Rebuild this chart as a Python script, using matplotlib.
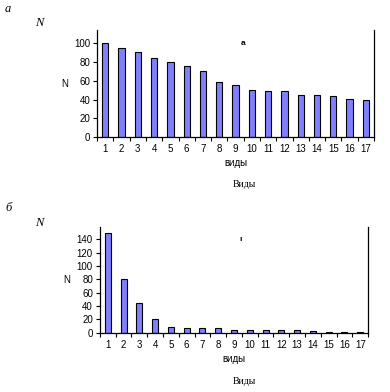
import matplotlib
matplotlib.use("Agg")
import matplotlib.pyplot as plt
import numpy as np

species = list(range(1, 18))
counts_a = [100, 94.7, 90.4, 84, 79.7, 75.4, 70.4, 58.4, 55.2, 49.8, 48.8, 48.8, 44.5, 44.5, 43.4, 40.2, 39.2]
counts_b = [150, 80, 44, 20, 8, 6.5, 6.5, 6.5, 4, 4, 4, 4, 4, 2.5, 1, 1, 1]

plt.rcParams['font.family'] = ['Liberation Sans', 'DejaVu Sans']

fig = plt.figure(figsize=(3.9, 3.92), dpi=100)


def draw_panel(ax, values, ymax, ystep):
    x = np.array(species)
    ax.bar(x, values, width=0.38, color="#8080ff", edgecolor="black", linewidth=0.8)
    ax.set_xlim(0.5, 17.5)
    ax.set_ylim(0, ymax)
    ax.set_yticks(np.arange(0, ymax, ystep))
    ax.set_xticks(x)
    ax.set_xticks(np.arange(0.5, 18, 1), minor=True)
    ax.tick_params(axis="x", which="major", length=0, pad=5, labelsize=7)
    ax.tick_params(axis="x", which="minor", length=3, width=0.8, direction="out")
    ax.tick_params(axis="y", length=3, width=0.8, labelsize=7, pad=2)
    ax.spines["top"].set_visible(False)
    for s in ["left", "bottom", "right"]:
        ax.spines[s].set_linewidth(0.9)
    ax.set_ylabel("N", rotation=0, fontsize=7, labelpad=7, va="center")
    ax.set_xlabel("виды", fontsize=7, labelpad=3)


ax1 = fig.add_axes([0.249, 0.650, 0.710, 0.273])
draw_panel(ax1, counts_a, 114, 20)
ax1.text(0.52, 0.86, "a", transform=ax1.transAxes, fontsize=6, fontweight="bold")

ax2 = fig.add_axes([0.256, 0.151, 0.688, 0.271])
draw_panel(ax2, counts_b, 159, 20)
ax2.text(0.52, 0.86, "ı", transform=ax2.transAxes, fontsize=6, fontweight="bold")

serif = ['Liberation Serif', 'DejaVu Serif']
fig.text(5 / 390, 1 - 9 / 392, "а", family=serif, style="italic", fontsize=9, va="center")
fig.text(35 / 390, 1 - 23 / 392, "N", family=serif, style="italic", fontsize=9, va="center")
fig.text(244 / 390, 1 - 185 / 392, "Виды", family=serif, fontsize=7, ha="center", va="center")

fig.text(5 / 390, 1 - 208 / 392, "б", family=serif, style="italic", fontsize=9, va="center")
fig.text(35 / 390, 1 - 223 / 392, "N", family=serif, style="italic", fontsize=9, va="center")
fig.text(244 / 390, 1 - 382 / 392, "Виды", family=serif, fontsize=7, ha="center", va="center")

fig.savefig("out.png", dpi=100)
